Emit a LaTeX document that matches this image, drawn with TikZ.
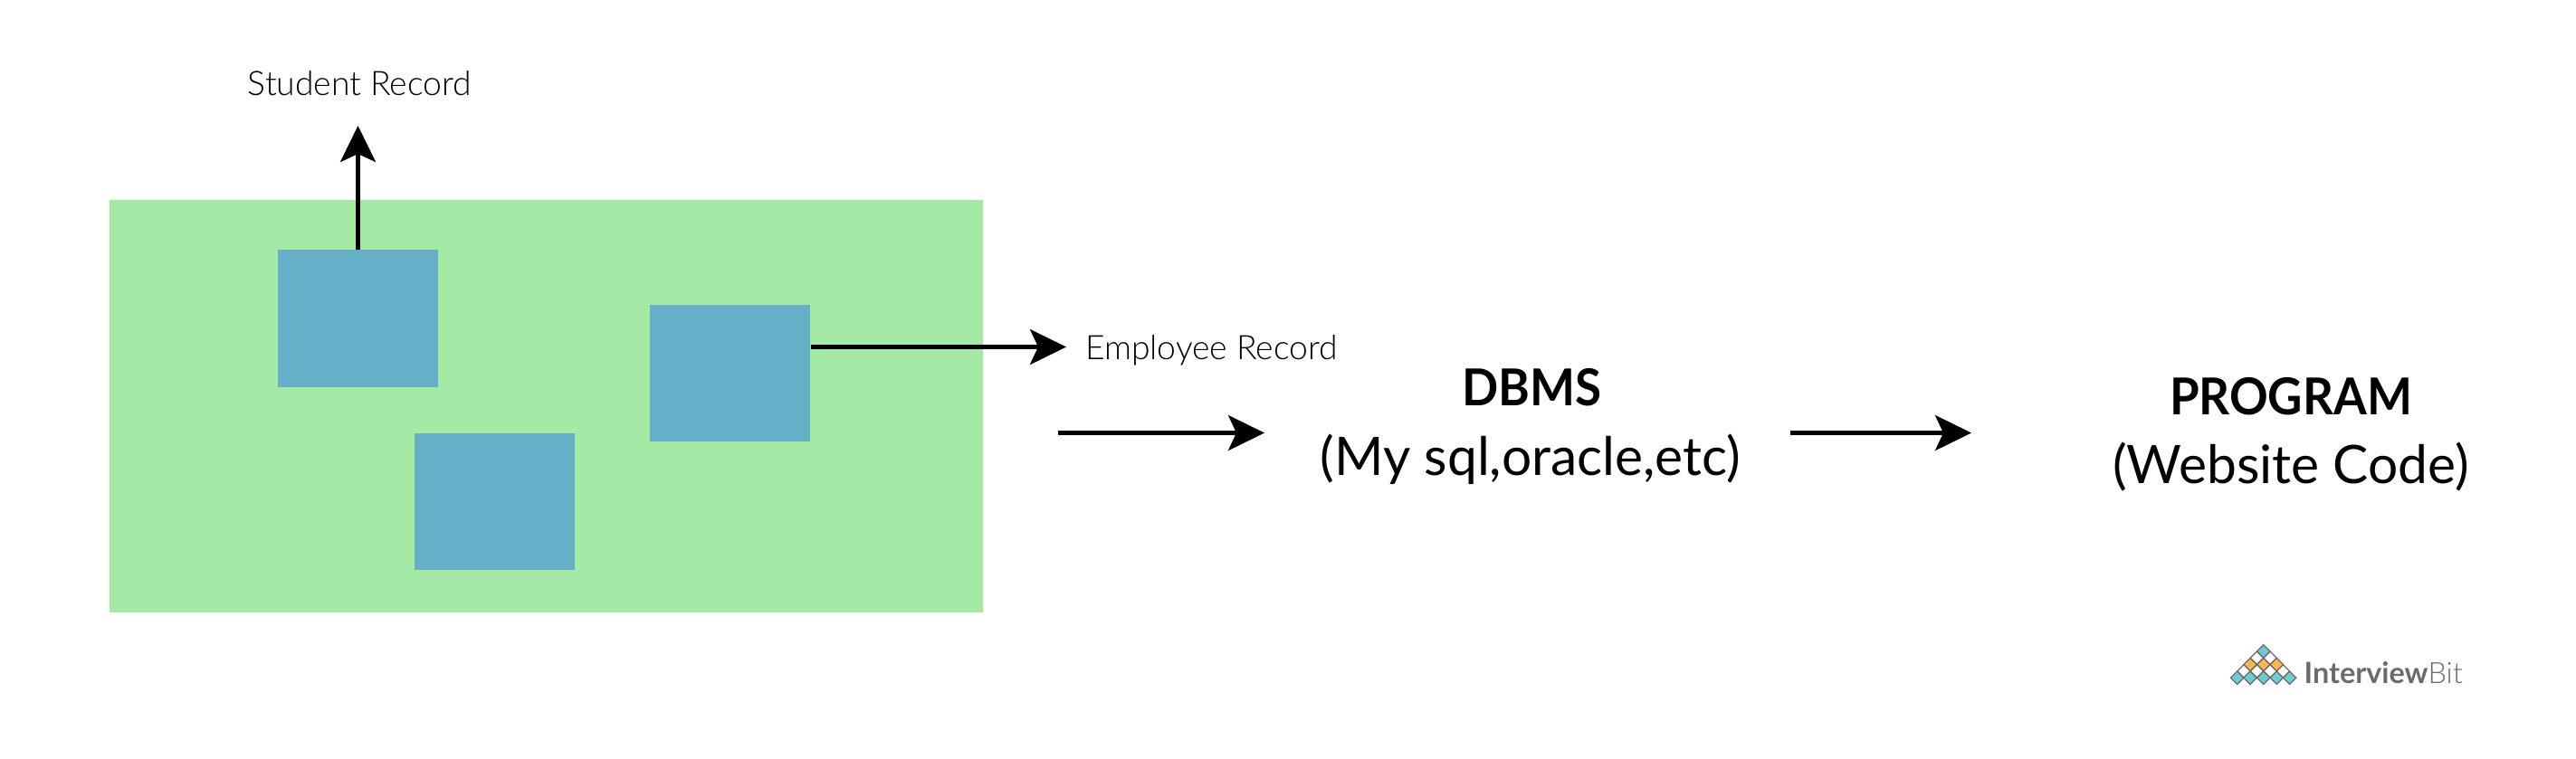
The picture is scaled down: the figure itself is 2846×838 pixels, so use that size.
\documentclass[tikz,border=0pt]{standalone}
\usepackage{fontspec}
\setmainfont{Lato}
\newfontfamily\lightf{Lato Light}
\newfontfamily\boldf[FakeStretch=0.94]{Lato Bold}
\usetikzlibrary{arrows.meta}
\definecolor{gbg}{HTML}{A4E9A4}
\definecolor{bluebox}{HTML}{65AFC8}
\definecolor{tealc}{HTML}{6CCBD3}
\definecolor{orangec}{HTML}{FBB84C}
\definecolor{greyc}{HTML}{6B6B6B}
\tikzset{
  px/.style={x=0.01cm,y=-0.01cm},
  area/.style={fill=gbg,draw=none},
  rec/.style={fill=bluebox,draw=none,inner sep=0pt,minimum width=1.77cm,minimum height=1.51cm},
  link/.style={line width=1.22pt,black,-{Stealth[length=0.40cm,width=0.39cm,inset=0.09cm]}},
  lbl/.style={inner sep=0pt,anchor=base,font=\lightf\fontsize{10.6}{10.6}\selectfont},
  big/.style={inner sep=0pt,anchor=base,font=\fontsize{16.7}{16.7}\selectfont},
  bigb/.style={inner sep=0pt,anchor=base,font=\boldf\fontsize{16}{16}\selectfont},
  dia/.style={draw=greyc,line width=0.35pt},
}
\begin{document}
\begin{tikzpicture}[px]
\useasboundingbox (0,0) rectangle (2846,838);
\path[area] (121,221) rectangle (1085.7,676.7);
\node[rec] (s1) at (395.5,352) {};
\node[rec] (s2) at (806.5,412.5) {};
\node[rec] (s3) at (546.5,554.2) {};
\coordinate (studtip) at (395.5,139);
\coordinate (emptip) at (1178,383.5);
\coordinate (a2s) at (1169,478.5);
\coordinate (a2e) at (1397,478.5);
\coordinate (a3s) at (1978,478.5);
\coordinate (a3e) at (2178,478.5);
\draw[link] (s1.north) -- (studtip);
\draw[link] (s2.east |- emptip) -- (emptip);
\draw[link] (a2s) -- (a2e);
\draw[link] (a3s) -- (a3e);
\node[lbl] (student) at (397.5,105) {Student Record};
\node[lbl] (employee) at (1338.5,397) {Employee Record};
\node[bigb] (dbms) at (1692,448) {DBMS};
\node[big] (dbmssub) at (1691,525) {(My sql,oracle,etc)};
\node[bigb] (prog) at (2531,458) {PROGRAM};
\node[big] (progsub) at (2531,534) {(Website Code)};
% logo
\foreach \cx/\cy/\c in {
 2500.7/720/tealc,
 2493.4/727.3/white,2508/727.3/white,
 2486/734.6/orangec,2500.7/734.6/orangec,2515.3/734.6/orangec,
 2479/741.9/white,2493.4/741.9/white,2508/741.9/white,2522.4/741.9/white,
 2471.7/749.2/tealc,2486/749.2/tealc,2500.7/749.2/tealc,2515.3/749.2/tealc,2529.6/749.2/tealc}{
  \draw[dia,fill=\c] (\cx-7.2,\cy) -- (\cx,\cy-7.2) -- (\cx+7.2,\cy) -- (\cx,\cy+7.2) -- cycle;
}
\node[inner sep=0pt,anchor=base west,text=greyc,font=\fontsize{9.2}{9.2}\selectfont] (logo) at (2545,755) {\textbf{Interview}{\lightf Bit}};
\end{tikzpicture}
\end{document}
